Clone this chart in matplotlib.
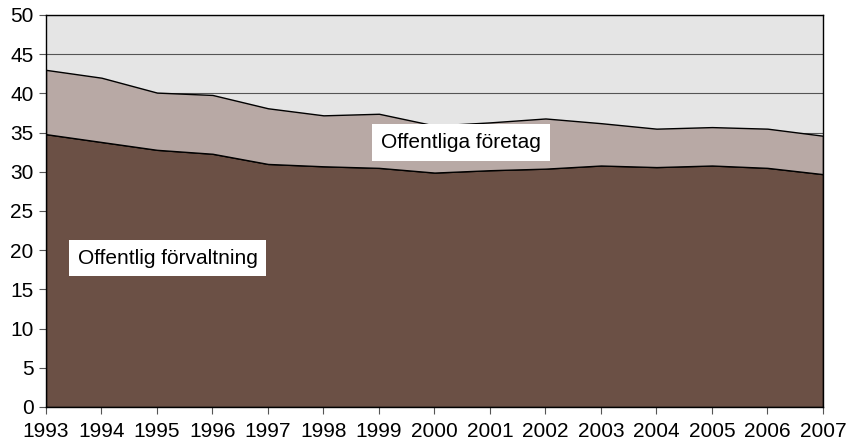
import numpy as np
import matplotlib.pyplot as plt

plt.rcParams['font.family'] = ['Liberation Sans', 'DejaVu Sans']

years = np.arange(1993, 2008)
forvaltning = [34.8, 33.8, 32.8, 32.3, 31.0, 30.7, 30.5, 29.9, 30.2, 30.4, 30.8, 30.6, 30.8, 30.5, 29.7]
totalt = [43.0, 42.0, 40.1, 39.8, 38.1, 37.2, 37.4, 35.9, 36.3, 36.8, 36.2, 35.5, 35.7, 35.5, 34.6]
foretag = np.array(totalt) - np.array(forvaltning)

fig = plt.figure(figsize=(8.48, 4.47), dpi=100)
ax = fig.add_axes([0.0542, 0.0895, 0.9163, 0.877])
ax.set_facecolor('#e5e5e5')

ax.stackplot(years, forvaltning, foretag, colors=['#6b5045', '#b8a9a5'],
             edgecolor='black', linewidth=1.0, zorder=2)

ax.set_xlim(1993, 2007)
ax.set_ylim(0, 50)
ax.set_yticks(range(0, 51, 5))
ax.set_xticks(years)
ax.grid(axis='y', color='#555555', linewidth=0.8, zorder=1)
ax.tick_params(labelsize=15, direction='out', length=5, color='#555555')
ax.tick_params(axis='x', pad=6)
ax.tick_params(axis='y', pad=4)
for s in ax.spines.values():
    s.set_linewidth(1.0)
    s.set_zorder(3)

ax.text(2000.48, 33.7, 'Offentliga företag', fontsize=15, ha='center', va='center',
        bbox=dict(facecolor='white', edgecolor='none', pad=6.5), zorder=4)
ax.text(1995.19, 19.0, 'Offentlig förvaltning', fontsize=15, ha='center', va='center',
        bbox=dict(facecolor='white', edgecolor='none', pad=6.5), zorder=4)

fig.savefig('out.png', dpi=100)
